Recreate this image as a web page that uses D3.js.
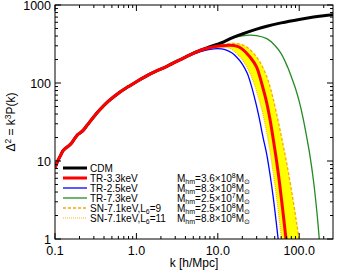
<!DOCTYPE html>
<html>
<head>
<meta charset="utf-8">
<script src="https://cdn.jsdelivr.net/npm/d3@7"></script>
<style>
  body { margin: 0; background: #fff; }
  svg { display: block; font-family: "Liberation Sans", Arial, sans-serif; }
</style>
</head>
<body>
<div id="chart"></div>
<script>
// power spectra: k [h/Mpc] and Delta^2
var cdmK = [0.1, 0.105, 0.11, 0.118, 0.125, 0.135, 0.145, 0.16, 0.175, 0.19, 0.205, 0.22, 0.25, 0.3, 0.36, 0.45, 0.6, 0.8, 1, 1.5, 2.4, 4, 6, 8, 10, 12, 15, 20, 30, 40, 60, 100, 150, 200, 260];
var cdmD = [8.3, 9.3, 10.4, 12.0, 13.5, 14.6, 15.4, 17.0, 19.5, 21.8, 23.0, 24.5, 29, 37, 46, 58, 74, 90, 104, 132, 165, 215, 262, 292, 315, 340, 380, 425, 490, 535, 590, 653, 700, 730, 750];

var tr33K = [5, 7, 9, 11, 14, 17, 20, 25, 30, 33, 36, 40, 44, 48, 52, 56, 60, 65, 70, 75];
var tr33D = [240, 275, 292, 300, 305, 297, 272, 214, 160, 118, 85, 55, 33, 19, 11, 6.3, 3.5, 1.7, 0.85, 0.45];

var tr25K = [4, 6, 8, 10, 12, 15, 17, 20, 23, 26, 29, 32, 36, 40, 44, 48, 52, 56];
var tr25D = [212, 250, 270, 276, 270, 242, 215, 175, 133, 90, 58, 37, 20, 12, 6.5, 3.4, 1.7, 0.85];

var tr73K = [12, 15, 20, 25, 30, 40, 50, 60, 72, 80, 90, 100, 110, 120, 135, 150, 165, 175, 185];
var tr73D = [340, 375, 402, 410, 405, 370, 305, 238, 160, 120, 85, 58, 38, 24, 12, 5.5, 2.2, 1.1, 0.5];

var sn9K = [5, 8, 12, 17, 22, 30, 35, 40, 44, 48, 55, 62, 70, 80, 90, 98, 106];
var sn9D = [240, 290, 315, 320, 295, 215, 165, 120, 88, 62, 33, 18, 9.5, 4.3, 2, 1.1, 0.55];

var sn11K = [5, 8, 11, 14, 18, 22, 27, 30, 34, 38, 42, 46, 50, 55, 60, 65];
var sn11D = [240, 278, 286, 278, 225, 172, 108, 78, 50, 30, 17.5, 9.5, 5.2, 2.4, 1.1, 0.5];

var legendNames = ['CDM', 'TR-3.3keV', 'TR-2.5keV', 'TR-7.3keV', 'SN-7.1keV,L6=9', 'SN-7.1keV,L6=11'];
var mhmMant = [null, '3.6', '8.3', '2.5', '2.5', '8.8'];
var mhmExp = [null, '8', '8', '7', '8', '8'];

var xTicks = [0.1, 1, 10, 100];
var xTickLabels = ['0.1', '1.0', '10.0', '100.0'];
var yTicks = [1, 10, 100, 1000];
var yTickLabels = ['1', '10', '100', '1000'];

var W = 340, H = 272;
var pL = 55, pR = 333, pT = 5, pB = 239;

function pts(ks, ds) {
  return ks.map(function(k, i) { return { k: k, d: ds[i] }; });
}
// the WDM curves sit on CDM below their first point
function withCdm(ks, ds) {
  var lo = pts(cdmK, cdmD).filter(function(p) { return p.k < ks[0]; });
  return lo.concat(pts(ks, ds));
}

var cdm = pts(cdmK, cdmD);
var tr33 = withCdm(tr33K, tr33D);
var tr25 = pts(tr25K, tr25D);
var tr73 = pts(tr73K, tr73D);
var sn9 = pts(sn9K, sn9D);
var sn11 = pts(sn11K, sn11D);

var x = d3.scaleLog().domain([0.1, 260]).range([pL, pR]);
var y = d3.scaleLog().domain([1, 1000]).range([pB, pT]);

var svg = d3.select('#chart').append('svg')
  .attr('width', W).attr('height', H);

svg.append('defs').append('clipPath').attr('id', 'clip')
  .append('rect')
  .attr('x', pL).attr('y', pT)
  .attr('width', pR - pL).attr('height', pB - pT);

var line = d3.line()
  .x(function(p) { return x(p.k); })
  .y(function(p) { return y(p.d); })
  .curve(d3.curveCatmullRom.alpha(0.5));

var plot = svg.append('g').attr('clip-path', 'url(#clip)');

// yellow band between the two SN models
var band = sn9.concat(sn11.slice().reverse());
plot.append('path')
  .attr('d', line(band) + 'Z')
  .attr('fill', '#ffff00')
  .attr('stroke', 'none');

function drawCurve(data, color, width, dash) {
  plot.append('path')
    .attr('d', line(data))
    .attr('fill', 'none')
    .attr('stroke', color)
    .attr('stroke-width', width)
    .attr('stroke-dasharray', dash || null)
    .attr('stroke-linejoin', 'round');
}

drawCurve(sn11, '#ffb020', 1.2, '1,1');
drawCurve(sn9, '#ffa500', 1.3, '3,2');
drawCurve(tr25, '#0000ff', 1.3);
drawCurve(tr73, '#228b22', 1.3);
drawCurve(cdm, '#000000', 3);
drawCurve(tr33, '#ff0000', 3);

// frame with inward ticks on all sides
svg.append('rect')
  .attr('x', pL).attr('y', pT)
  .attr('width', pR - pL).attr('height', pB - pT)
  .attr('fill', 'none').attr('stroke', '#000').attr('stroke-width', 1);

var xMinor = [], yMinor = [];
[0.1, 1, 10, 100].forEach(function(dec) {
  for (var m = 2; m <= 9; m++) if (dec * m < 260) xMinor.push(dec * m);
});
[1, 10, 100].forEach(function(dec) {
  for (var m = 2; m <= 9; m++) yMinor.push(dec * m);
});

var ticks = svg.append('g').attr('stroke', '#000').attr('stroke-width', 1);
function tickX(v, len) {
  ticks.append('line').attr('x1', x(v)).attr('x2', x(v)).attr('y1', pB).attr('y2', pB - len);
  ticks.append('line').attr('x1', x(v)).attr('x2', x(v)).attr('y1', pT).attr('y2', pT + len);
}
function tickY(v, len) {
  ticks.append('line').attr('y1', y(v)).attr('y2', y(v)).attr('x1', pL).attr('x2', pL + len);
  ticks.append('line').attr('y1', y(v)).attr('y2', y(v)).attr('x1', pR).attr('x2', pR - len);
}
xTicks.forEach(function(v) { tickX(v, 6); });
xMinor.forEach(function(v) { tickX(v, 3); });
yTicks.forEach(function(v) { tickY(v, 6); });
yMinor.forEach(function(v) { tickY(v, 3); });

xTicks.forEach(function(v, i) {
  svg.append('text')
    .attr('x', x(v)).attr('y', 255)
    .attr('text-anchor', 'middle')
    .attr('font-size', '12.5px')
    .text(xTickLabels[i]);
});
yTicks.forEach(function(v, i) {
  svg.append('text')
    .attr('x', pL - 4).attr('y', y(v) + 4.5)
    .attr('text-anchor', 'end')
    .attr('font-size', '12.5px')
    .text(yTickLabels[i]);
});

svg.append('text')
  .attr('x', 194).attr('y', 267)
  .attr('text-anchor', 'middle')
  .attr('font-size', '12px')
  .text('k [h/Mpc]');

var yl = svg.append('text')
  .attr('transform', 'translate(15,' + ((pT + pB) / 2) + ') rotate(-90)')
  .attr('text-anchor', 'middle')
  .attr('font-size', '12px');
yl.append('tspan').text('\u0394');
yl.append('tspan').attr('dy', -4.5).attr('font-size', '8.5px').text('2');
yl.append('tspan').attr('dy', 4.5).text(' = k');
yl.append('tspan').attr('dy', -4.5).attr('font-size', '8.5px').text('3');
yl.append('tspan').attr('dy', 4.5).text('P(k)');

// legend
var legColors = ['#000000', '#ff0000', '#0000ff', '#228b22', '#ffa500', '#ffb020'];
var legWidths = [3, 3, 1.3, 1.3, 1.3, 1.2];
var legDash = [null, null, null, null, '3,2', '1,1'];
var leg = svg.append('g');
legendNames.forEach(function(name, i) {
  var ly = 168 + i * 10;
  leg.append('line')
    .attr('x1', 63).attr('x2', 87).attr('y1', ly).attr('y2', ly)
    .attr('stroke', legColors[i])
    .attr('stroke-width', legWidths[i])
    .attr('stroke-dasharray', legDash[i]);
  var t = leg.append('text')
    .attr('x', 90).attr('y', ly + 3.5)
    .attr('font-size', '10px');
  if (name.indexOf('L6') >= 0) {
    var parts = name.split('L6');
    t.append('tspan').text(parts[0] + 'L');
    t.append('tspan').attr('dy', 2).attr('font-size', '7px').text('6');
    t.append('tspan').attr('dy', -2).text(parts[1]);
  } else {
    t.text(name);
  }
  if (mhmMant[i]) {
    var m = leg.append('text')
      .attr('x', 177).attr('y', ly + 3.5)
      .attr('font-size', '10px');
    m.append('tspan').text('M');
    m.append('tspan').attr('dy', 2).attr('font-size', '7px').text('hm');
    m.append('tspan').attr('dy', -2).text('=' + mhmMant[i] + '\u00d710');
    m.append('tspan').attr('dy', -4).attr('font-size', '7px').text(mhmExp[i]);
    m.append('tspan').attr('dy', 4).text('M');
    m.append('tspan').attr('dy', 2).attr('font-size', '7px').text('\u2299');
  }
});
</script>
</body>
</html>
